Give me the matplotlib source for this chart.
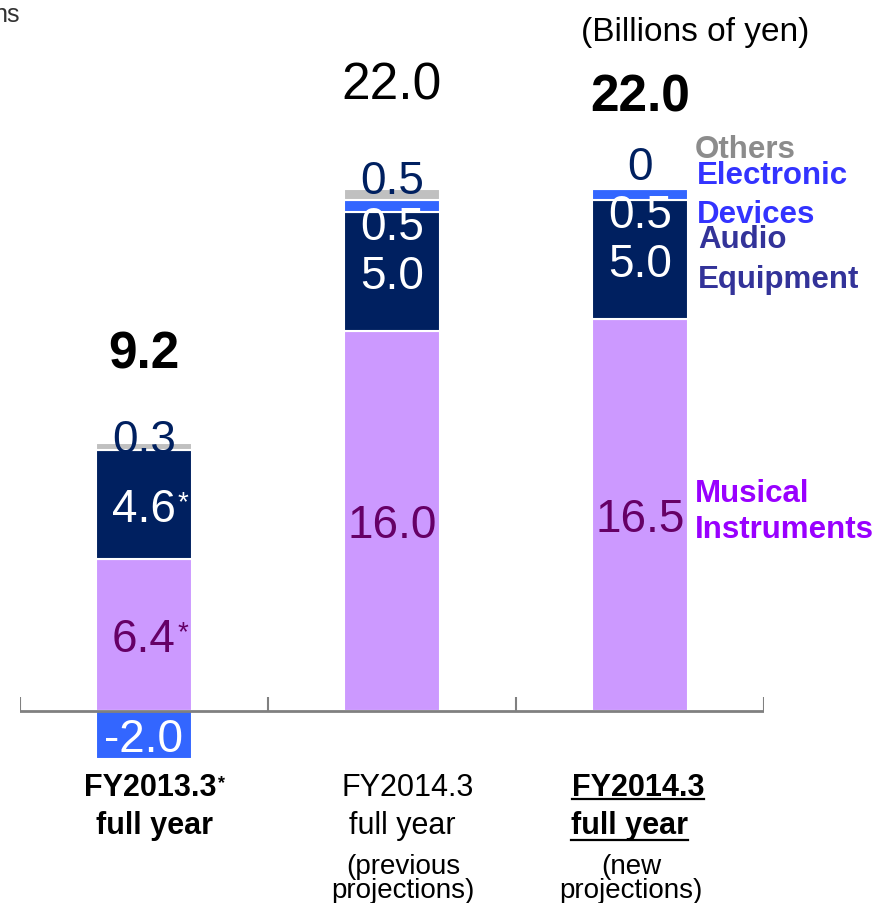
import matplotlib.pyplot as plt
import matplotlib.transforms as mtransforms
from matplotlib.lines import Line2D
import numpy as np

plt.rcParams['font.family'] = ['Liberation Sans', 'DejaVu Sans']

# Operating income by segment (billions of yen)
periods = ['FY2013.3', 'FY2014.3', 'FY2014.3']
musical = [6.4, 16.0, 16.5]
audio = [4.6, 5.0, 5.0]
electronic = [-2.0, 0.5, 0.5]
others = [0.3, 0.5, 0.0]
totals = ['9.2', '22.0', '22.0']
total_bold = [True, False, True]

c_musical = '#CC99FF'
c_audio = '#002060'
c_elec = '#3366FF'
c_others = '#C0C0C0'

W, H = 879, 904
fig = plt.figure(figsize=(W / 100, H / 100), dpi=100)

zero_px = 712
unit_px = 23.75
ax = fig.add_axes([20 / W, 0, 744 / W, 1])
ax.set_xlim(-0.5, 2.5)
ax.set_ylim(-(H - zero_px) / unit_px, zero_px / unit_px)
ax.axis('off')


def fx(px):
    return px / W


def fy(py):
    return 1 - py / H


def centered(x, y, s, size, color, bold=False):
    # put the middle of the cap height on y (data coords)
    tr = mtransforms.offset_copy(ax.transData, fig=fig, y=-0.358 * size, units='points')
    return ax.text(x, y, s, transform=tr, ha='center', va='baseline', fontsize=size,
                   color=color, fontweight='bold' if bold else 'normal', zorder=5)


# stacked bars, negatives stacked below zero
x = np.arange(len(periods))
width = 0.39
pos = np.zeros(3)
neg = np.zeros(3)
bottoms = {}
for name, vals, color in [('musical', musical, c_musical), ('audio', audio, c_audio),
                          ('electronic', electronic, c_elec), ('others', others, c_others)]:
    vals = np.array(vals)
    bottom = np.where(vals >= 0, pos, neg)
    ax.bar(x, vals, width, bottom=bottom, color=color, edgecolor='white', linewidth=1.5, zorder=2)
    bottoms[name] = bottom.copy()
    pos += np.clip(vals, 0, None)
    neg += np.clip(vals, None, 0)

# baseline with category ticks
ax.axhline(0, color='#808080', lw=2, zorder=4)
ax.vlines([-0.5, 0.5, 1.5, 2.5], 0, 14 / unit_px, color='#808080', lw=1.5, zorder=4)

starred = []
val_size = 33
for i in range(3):
    t = centered(i, bottoms['musical'][i] + musical[i] / 2, f'{musical[i]:.1f}', val_size, '#660066')
    if i == 0:
        starred.append((t, '#660066', 20))
    t = centered(i, bottoms['audio'][i] + audio[i] / 2, f'{audio[i]:.1f}', val_size, 'white')
    if i == 0:
        starred.append((t, 'white', 20))
    if electronic[i] < 0:
        centered(i, electronic[i] / 2, f'{electronic[i]:.1f}', val_size, 'white')
    else:
        centered(i, bottoms['electronic'][i] - 0.45, f'{electronic[i]:.1f}', val_size, 'white')

# small "others" values sit above the stack
others_lift = [0.28, 0.5, 1.07]
for i in range(3):
    top = bottoms['others'][i] + others[i]
    s = f'{others[i]:.1f}' if others[i] else '0'
    centered(i, top + others_lift[i], s, val_size, c_audio)

total_lift = [3.95, 4.55, 4.05]
for i in range(3):
    centered(i, pos[i] + total_lift[i], totals[i], 37, 'black', bold=total_bold[i])

# segment names on the right
legend = [('Others', 695, 158, '#8C8C8C'), ('Electronic', 697, 184, '#3333FF'),
          ('Devices', 697, 223, '#3333FF'), ('Audio', 698, 248, '#333399'),
          ('Equipment', 698, 288, '#333399'), ('Musical', 695, 502, '#9900FF'),
          ('Instruments', 695, 538, '#9900FF')]
for s, lx, ly, col in legend:
    fig.text(fx(lx), fy(ly), s, ha='left', va='baseline', fontsize=22.5,
             fontweight='bold', color=col)

fig.text(fx(695.5), fy(41), '(Billions of yen)', ha='center', va='baseline', fontsize=24)
fig.text(fx(20), fy(22), 'ns', ha='right', va='baseline', fontsize=18, color='#333333')

# category labels
cat_bold = [True, False, True]
cat_x = [150, 408, 638]
cat2_x = [154, 402, 630]
cat_texts = []
for i in range(3):
    w = 'bold' if cat_bold[i] else 'normal'
    t1 = fig.text(fx(cat_x[i]), fy(796), periods[i], ha='center', va='baseline',
                  fontsize=22, fontweight=w)
    t2 = fig.text(fx(cat2_x[i]), fy(834), 'full year', ha='center', va='baseline',
                  fontsize=22, fontweight=w)
    cat_texts.append((t1, t2))
starred.append((cat_texts[0][0], 'black', 13))

notes = [None, '(previous', '(new']
for i in (1, 2):
    cx = 403 if i == 1 else 631
    fig.text(fx(cx), fy(874), notes[i], ha='center', va='baseline', fontsize=20)
    fig.text(fx(cx), fy(898), 'projections)', ha='center', va='baseline', fontsize=20)

fig.canvas.draw()
renderer = fig.canvas.get_renderer()

# asterisks after the marked figures
for t, col, size in starred:
    bb = t.get_window_extent(renderer)
    fig.text((bb.x1 + 2) / W, (bb.y1 - 2) / H, '*', ha='left', va='top',
             fontsize=size, color=col, fontweight=t.get_fontweight())

# underline the new projection labels
for t, off in [(cat_texts[2][0], 4), (cat_texts[2][1], 7)]:
    bb = t.get_window_extent(renderer)
    base = t.get_position()[1] * H
    yline = (base - off) / H
    fig.add_artist(Line2D([bb.x0 / W, bb.x1 / W], [yline, yline], color='black', lw=1.6))

fig.savefig('out.png', dpi=100)
